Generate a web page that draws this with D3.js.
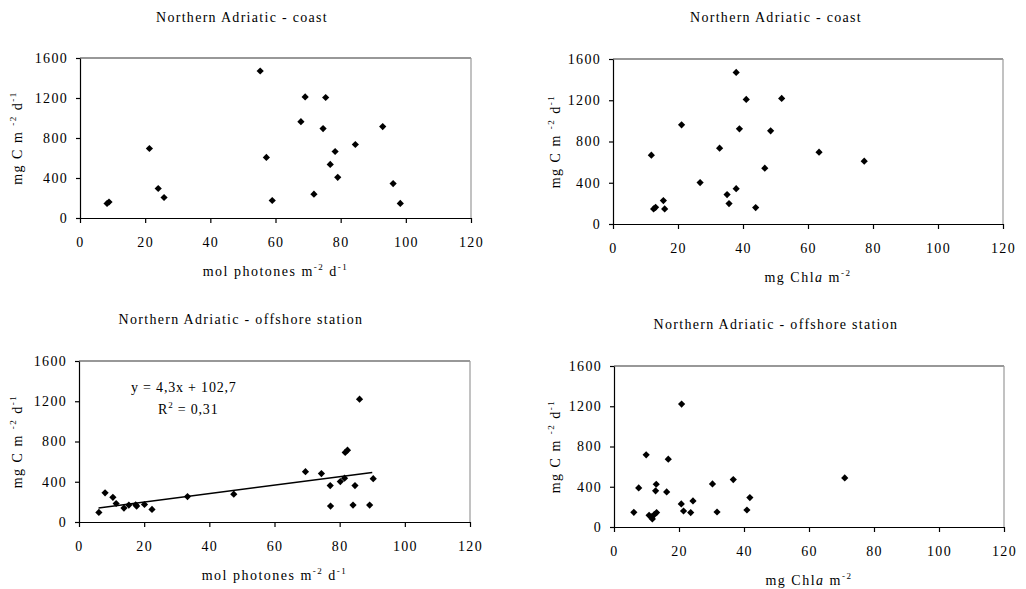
<!DOCTYPE html>
<html lang="en">
<head>
<meta charset="utf-8">
<title>Northern Adriatic - primary production</title>
<script src="https://cdnjs.cloudflare.com/ajax/libs/d3/7.8.5/d3.min.js"></script>
<style>
  body { margin: 0; background: #fff; }
  svg text { font-family: "Liberation Serif", "DejaVu Serif", serif; fill: #000; }
  .tick text { font-size: 14px; letter-spacing: 1.3px; }
  .tick line, .domain { stroke: #000; stroke-width: 1.2px; }
  .title { font-size: 14px; letter-spacing: 1.3px; }
  .label { font-size: 14px; letter-spacing: 1.5px; }
  .eq { font-size: 14px; letter-spacing: 0.8px; }
</style>
</head>
<body>
<svg id="chart" width="1026" height="589"></svg>
<script>
// [x, production mg C m-2 d-1]
const coastLight = [
  [8.3, 145], [8.9, 160], [21.3, 695], [24.0, 295], [25.8, 205],
  [55.3, 1470], [57.2, 606], [59.0, 175], [67.8, 963], [69.1, 1211],
  [71.8, 238], [74.6, 894], [75.4, 1205], [76.8, 536], [78.3, 665],
  [79.1, 407], [84.5, 735], [92.9, 914], [96.1, 344], [98.3, 146]
];
const coastChl = [
  [11.8, 667], [12.5, 146], [13.1, 162], [15.5, 227], [15.9, 146],
  [21.1, 962], [26.8, 402], [32.8, 735], [35.1, 285], [35.7, 198],
  [37.9, 1470], [37.9, 343], [38.9, 923], [41.0, 1208], [43.9, 159],
  [46.7, 541], [48.5, 904], [51.9, 1218], [63.4, 696], [77.3, 609]
];
const offshoreLight = [
  [6.1, 95], [8.0, 290], [10.4, 245], [11.4, 184], [13.8, 138],
  [15.3, 168], [17.4, 171], [17.7, 158], [20.1, 174], [22.4, 125],
  [33.3, 253], [47.5, 277], [69.5, 500], [74.4, 481], [77.1, 362],
  [77.2, 158], [80.2, 402], [81.5, 435], [81.7, 691], [82.4, 714],
  [84.1, 168], [84.7, 362], [86.1, 1221], [89.2, 168], [90.3, 431]
];
const offshoreChl = [
  [6.1, 146], [7.6, 388], [9.9, 717], [10.8, 116], [11.5, 100],
  [11.8, 80], [12.4, 123], [13.1, 143], [12.8, 359], [13.0, 425],
  [16.2, 349], [16.7, 674], [20.8, 1222], [20.7, 229], [21.4, 159],
  [23.6, 143], [24.3, 259], [30.3, 428], [31.7, 149], [36.7, 471],
  [40.9, 169], [41.8, 292], [71.0, 488]
];
// regression line ends for the offshore light panel
const offshoreTrend = [[6, 140], [90, 492]];
const trendText = ["y = 4,3x + 102,7", "R", "2", " = 0,31"];

const xTicks = [0, 20, 40, 60, 80, 100, 120];
const yTicks = [0, 400, 800, 1200, 1600];
const titles = ["Northern Adriatic - coast", "Northern Adriatic - offshore station"];

const svg = d3.select("#chart");

const panels = [
  { data: coastLight, title: titles[0], xl: "light", l: 80, r: 471, t: 58, b: 218, tx: 242, ty: 22, yl: 17 },
  { data: coastChl, title: titles[0], xl: "chl", l: 613, r: 1003, t: 59, b: 224, tx: 776, ty: 22, yl: 555 },
  { data: offshoreLight, title: titles[1], xl: "light", l: 79, r: 470, t: 361, b: 522, tx: 241, ty: 324, yl: 17, trend: true },
  { data: offshoreChl, title: titles[1], xl: "chl", l: 614, r: 1004, t: 366, b: 527, tx: 776, ty: 329, yl: 555 }
];

const diamond = d3.symbol().type(d3.symbolSquare).size(26);

panels.forEach(p => {
  const x = d3.scaleLinear().domain([0, 120]).range([p.l, p.r]);
  const y = d3.scaleLinear().domain([0, 1600]).range([p.b, p.t]);
  const g = svg.append("g");

  // frame: top and right borders
  g.append("line").attr("x1", p.l).attr("x2", p.r).attr("y1", p.t).attr("y2", p.t)
    .attr("stroke", "#333").attr("stroke-width", 1.2);
  g.append("line").attr("x1", p.r).attr("x2", p.r).attr("y1", p.t).attr("y2", p.b)
    .attr("stroke", "#999").attr("stroke-width", 1.2);

  g.append("g")
    .attr("transform", "translate(0," + p.b + ")")
    .call(d3.axisBottom(x).tickValues(xTicks).tickFormat(d3.format("d"))
      .tickSize(5).tickSizeOuter(0).tickPadding(14));

  g.append("g")
    .attr("transform", "translate(" + p.l + ",0)")
    .call(d3.axisLeft(y).tickValues(yTicks).tickFormat(d3.format("d"))
      .tickSize(4).tickSizeOuter(0).tickPadding(8));

  // title
  g.append("text").attr("class", "title")
    .attr("x", p.tx).attr("y", p.ty)
    .attr("text-anchor", "middle")
    .text(p.title);

  // x label
  const xlab = g.append("text").attr("class", "label")
    .attr("x", (p.l + p.r) / 2).attr("y", p.b + 58)
    .attr("text-anchor", "middle");
  if (p.xl === "light") {
    xlab.append("tspan").text("mol photones m");
    xlab.append("tspan").attr("dy", -6).attr("font-size", 9).text("-2");
    xlab.append("tspan").attr("dy", 6).text(" d");
    xlab.append("tspan").attr("dy", -6).attr("font-size", 9).text("-1");
  } else {
    xlab.append("tspan").text("mg Chl");
    xlab.append("tspan").attr("font-style", "italic").text("a");
    xlab.append("tspan").text(" m");
    xlab.append("tspan").attr("dy", -6).attr("font-size", 9).text("-2");
  }

  // y label
  const ylab = g.append("text").attr("class", "label")
    .attr("transform", "translate(" + (p.yl + 5) + "," + ((p.t + p.b) / 2) + ") rotate(-90)")
    .attr("text-anchor", "middle");
  ylab.append("tspan").text("mg C m  ");
  ylab.append("tspan").attr("dy", -6).attr("font-size", 9).text("-2");
  ylab.append("tspan").attr("dy", 6).text(" d");
  ylab.append("tspan").attr("dy", -6).attr("font-size", 9).text("-1");

  // points
  g.selectAll("path.pt")
    .data(p.data)
    .enter()
    .append("path")
    .attr("class", "pt")
    .attr("d", diamond)
    .attr("transform", d => "translate(" + x(d[0]) + "," + y(d[1]) + ") rotate(45)")
    .attr("fill", "#000");

  if (p.trend) {
    g.append("line")
      .attr("x1", x(offshoreTrend[0][0])).attr("y1", y(offshoreTrend[0][1]))
      .attr("x2", x(offshoreTrend[1][0])).attr("y2", y(offshoreTrend[1][1]))
      .attr("stroke", "#000").attr("stroke-width", 1.5);

    g.append("text").attr("class", "eq")
      .attr("x", 131).attr("y", 392)
      .text(trendText[0]);
    const r2 = g.append("text").attr("class", "eq")
      .attr("x", 158).attr("y", 414);
    r2.append("tspan").text(trendText[1]);
    r2.append("tspan").attr("dy", -6).attr("font-size", 9).text(trendText[2]);
    r2.append("tspan").attr("dy", 6).text(trendText[3]);
  }
});
</script>
</body>
</html>
